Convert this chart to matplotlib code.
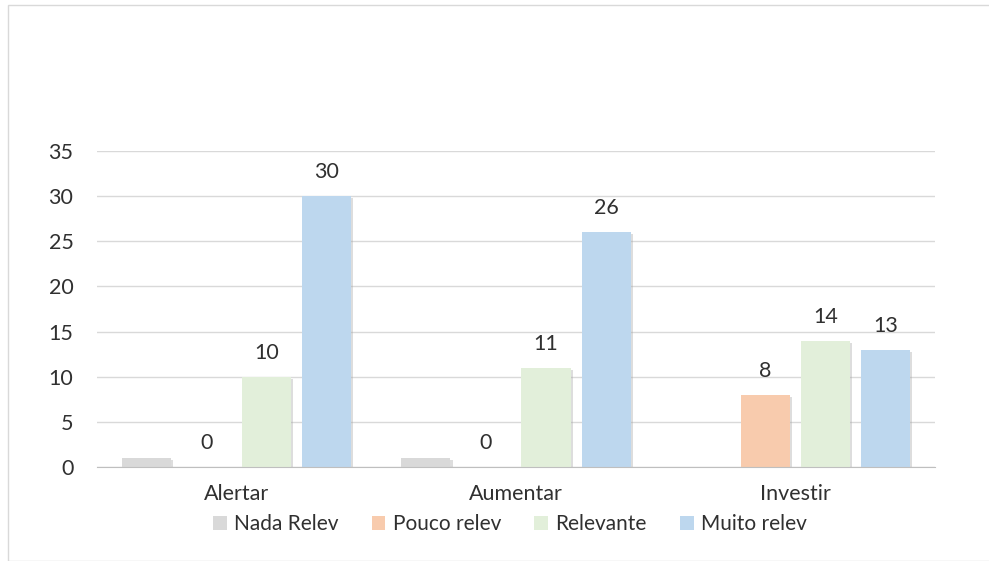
import numpy as np
import matplotlib.pyplot as plt
from matplotlib import patheffects
from matplotlib.patches import Rectangle, Patch

categories = ["Alertar", "Aumentar", "Investir"]
series_names = ["Nada Relev", "Pouco relev", "Relevante", "Muito relev"]
nada_relev = [1, 1, 0]
pouco_relev = [0, 0, 8]
relevante = [10, 11, 14]
muito_relev = [30, 26, 13]
y_ticks = [0, 5, 10, 15, 20, 25, 30, 35]

colors = ["#D9D9D9", "#F8CBAD", "#E2EFDA", "#BDD7EE"]
show_labels = [False, True, True, True]

plt.rcParams["font.family"] = ["Lato", "DejaVu Sans"]

fig = plt.figure(figsize=(9.89, 5.61), dpi=100)
ax = fig.add_axes([97 / 989, 1 - 467 / 561, (935 - 97) / 989, (467 - 151) / 561])

x = np.arange(len(categories))
bar_w = 0.176
step = 0.215
offsets = (np.arange(4) - 1.5) * step
shadow = [patheffects.SimplePatchShadow(offset=(1.5, -1.5), shadow_rgbFace="#A0A0A0", alpha=0.35),
          patheffects.Normal()]

for i, vals in enumerate([nada_relev, pouco_relev, relevante, muito_relev]):
    bars = ax.bar(x + offsets[i], vals, width=bar_w, color=colors[i], zorder=3)
    for b in bars:
        if b.get_height() > 0:
            b.set_path_effects(shadow)
    if show_labels[i]:
        for xi, v in zip(x + offsets[i], vals):
            ax.annotate(str(v), (xi, v), xytext=(0, 10), textcoords="offset points",
                        ha="center", va="bottom", fontsize=15.5, color="#303030")

ax.set_xlim(-0.5, 2.5)
ax.set_ylim(0, 35)
ax.set_yticks(y_ticks)
ax.set_xticks(x)
ax.set_xticklabels(categories)
ax.tick_params(axis="both", length=0, labelsize=15.5, labelcolor="#303030")
ax.tick_params(axis="y", pad=17)
ax.tick_params(axis="x", pad=12)
ax.grid(axis="y", color="#D9D9D9", linewidth=1, zorder=0)
for s in ["top", "right", "left"]:
    ax.spines[s].set_visible(False)
ax.spines["bottom"].set_color("#BFBFBF")
ax.spines["bottom"].set_zorder(4)

handles = [Patch(facecolor=c, label=n) for c, n in zip(colors, series_names)]
fig.legend(handles=handles, loc="center", bbox_to_anchor=(510 / 989, 1 - 524 / 561), ncol=4,
           frameon=False, fontsize=15, handlelength=0.65, handleheight=0.65, handletextpad=0.35,
           columnspacing=1.6, labelcolor="#303030")

fig.patches.append(Rectangle((8 / 989, 0), 1, 1 - 5 / 561, transform=fig.transFigure,
                             fill=False, edgecolor="#D9D9D9", linewidth=1))

fig.savefig("out.png", dpi=100)
